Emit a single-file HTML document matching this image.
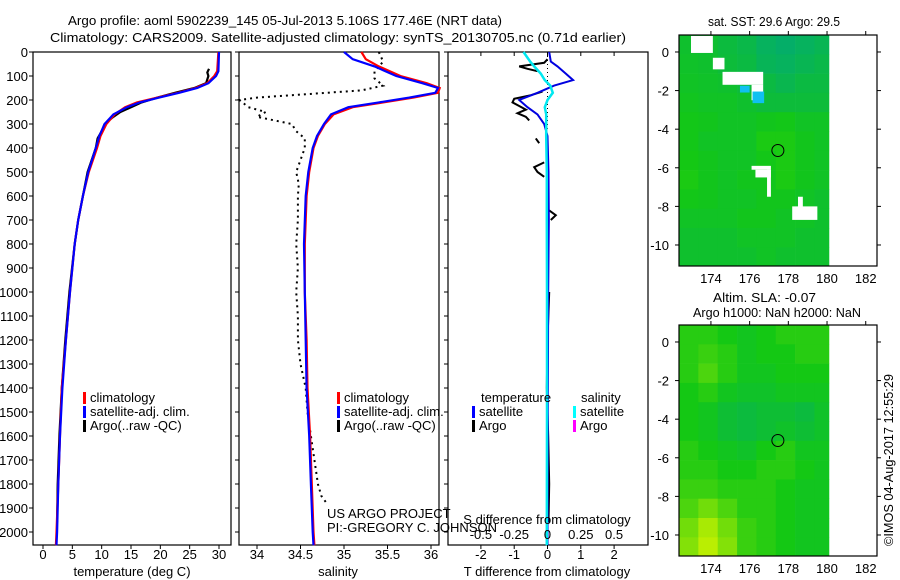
<!DOCTYPE html>
<html><head><meta charset="utf-8"><style>
html,body{margin:0;padding:0;background:#fff;}
svg{display:block;font-family:"Liberation Sans",sans-serif;}
text{fill:#000;font-size:13px;}
</style></head><body>
<svg id="fig" width="900" height="580" viewBox="0 0 900 580" xmlns="http://www.w3.org/2000/svg">
<text x="68" y="25" textLength="434" lengthAdjust="spacingAndGlyphs" font-size="13">Argo profile: aoml 5902239_145 05-Jul-2013 5.106S 177.46E (NRT data)</text>
<text x="50" y="42" textLength="576" lengthAdjust="spacingAndGlyphs" font-size="13">Climatology: CARS2009. Satellite-adjusted climatology: synTS_20130705.nc (0.71d earlier)</text>
<text x="708" y="26" textLength="132" lengthAdjust="spacingAndGlyphs">sat. SST: 29.6 Argo: 29.5</text>
<text x="713" y="302" textLength="103" lengthAdjust="spacingAndGlyphs">Altim. SLA: -0.07</text>
<text x="693" y="317" textLength="168" lengthAdjust="spacingAndGlyphs">Argo h1000: NaN h2000: NaN</text>
<text transform="translate(893,546) rotate(-90)" textLength="172" lengthAdjust="spacingAndGlyphs">©IMOS 04-Aug-2017 12:55:29</text>
<g id="g"></g>
</svg>
<script>
// ---------- data ----------
const depthT = [0,80,100,130,150,170,190,210,230,260,300,350,400,500,600,700,800,1000,1200,1400,1600,1800,2000,2055];
const tempClim = [29.9,29.7,29.2,28.0,26.0,23.0,19.5,16.0,14.0,12.2,10.8,9.8,9.2,7.8,6.8,6.0,5.4,4.6,3.9,3.2,2.9,2.6,2.3,2.2];
const tempSat  = [30.0,29.9,29.5,28.2,26.3,23.2,19.8,16.5,14.3,12.0,10.5,9.6,9.0,7.7,6.8,6.0,5.4,4.6,3.9,3.3,2.9,2.6,2.4,2.3];
const depthA = [70,85,100,130,150,170,190,210,230,250,270,300,330,360,400,500,600,700,800,1000,1200,1400,1600,1800,1960];
const tempArgo = [28.3,28.0,28.2,27.8,25.8,22.5,19.5,16.8,15.0,13.2,12.0,10.5,10.0,9.3,9.0,7.6,6.8,6.0,5.4,4.5,3.8,3.2,2.8,2.5,2.4];

const depthS = [0,30,60,100,130,150,170,190,210,230,260,300,350,400,500,600,800,1000,1200,1400,1600,1800,2000,2055];
const salClim = [35.2,35.25,35.4,35.65,35.95,36.1,36.08,35.8,35.45,35.1,34.88,34.78,34.7,34.65,34.6,34.57,34.55,34.55,34.57,34.58,34.61,34.63,34.65,34.66];
const salSat  = [35.0,35.1,35.35,35.6,35.9,36.08,36.05,35.75,35.4,35.05,34.85,34.77,34.69,34.64,34.59,34.56,34.54,34.55,34.56,34.57,34.6,34.62,34.64,34.65];
const depthSA = [0,40,80,110,140,160,175,190,200,215,230,250,270,300,330,360,400,450,500,550,600,700,800,900,1000,1100,1200,1300,1400,1500,1600,1700,1750,1800,1850,1880];
const salArgo = [35.4,35.45,35.35,35.35,35.45,35.2,34.6,34.0,33.8,33.85,33.9,34.1,34.0,34.4,34.45,34.55,34.55,34.5,34.45,34.48,34.47,34.47,34.45,34.47,34.45,34.47,34.47,34.5,34.56,34.58,34.62,34.66,34.68,34.7,34.74,34.8];

const depthD = [0,40,60,90,117,140,170,200,230,260,300,350,500,700,1000,1500,2055];
const tDiffSat = [0.05,0.1,0.3,0.55,0.77,0.2,-0.3,-0.85,-0.6,-0.3,-0.1,0.0,0.03,0.04,0.02,0.01,0.0];
const sDiffSat = [-0.18,-0.13,-0.1,-0.05,-0.02,0.02,0.04,0.0,-0.02,-0.01,-0.01,-0.01,-0.005,-0.005,-0.004,-0.004,-0.005];
// null = gap in Argo record
const depthDA = [30,45,60,70,80,  150,165,180,195,210,225,240,255,270,285,  340,360,380,  440,460,480,500,520,  640,660,680,700,  800,1000,1200,1400,1600,1800,1960];
const tDiffArgo = [0.0,-0.1,-0.85,-0.6,-0.3, null,-0.15,-0.5,-1.0,-1.05,-0.85,-0.65,-0.9,-0.65,-0.55, null,-0.35,-0.25, null,-0.1,-0.4,-0.3,-0.1, null,0.05,0.25,0.1, null,0.05,0.0,-0.02,0.02,0.05,0.03];

const depthTicks = [0,100,200,300,400,500,600,700,800,900,1000,1100,1200,1300,1400,1500,1600,1700,1800,1900,2000];
const tempTicks = [0,5,10,15,20,25,30];
const salTicks = [34,34.5,35,35.5,36];
const tdTicks = [-2,-1,0,1,2];
const sdTicks = [-0.5,-0.25,0,0.25,0.5];
const sdTickLabels = ['-0.5','-0.25','0','0.25','0.5'];
const lonTicks = [174,176,178,180,182];
const latTicks = [0,-2,-4,-6,-8,-10];

const mapLon0 = 172.35, mapLat0 = 0.88;
const sstGrid = [
[0.38,0.36,0.3,0.25,0.15,0.1,0.15,0.2],
[0.4,0.38,0.32,0.28,0.18,0.15,0.2,0.25],
[0.42,0.4,0.38,0.32,0.28,0.22,0.28,0.28],
[0.45,0.42,0.42,0.38,0.32,0.32,0.32,0.32],
[0.48,0.46,0.42,0.42,0.46,0.48,0.42,0.42],
[0.48,0.42,0.42,0.42,0.52,0.52,0.46,0.42],
[0.5,0.46,0.42,0.42,0.48,0.52,0.46,0.42],
[0.52,0.46,0.42,0.46,0.46,0.52,0.46,0.42],
[0.48,0.46,0.42,0.42,0.46,0.46,0.42,0.38],
[0.42,0.42,0.42,0.46,0.46,0.42,0.42,0.38],
[0.38,0.38,0.38,0.42,0.42,0.42,0.38,0.38],
[0.38,0.38,0.38,0.38,0.42,0.38,0.38,0.38]];
const slaGrid = [
[0.55,0.55,0.5,0.45,0.5,0.55,0.55,0.55],
[0.55,0.6,0.55,0.45,0.5,0.5,0.55,0.55],
[0.55,0.65,0.55,0.45,0.45,0.5,0.5,0.5],
[0.5,0.55,0.45,0.4,0.4,0.45,0.45,0.45],
[0.5,0.45,0.35,0.3,0.35,0.35,0.3,0.4],
[0.5,0.45,0.35,0.3,0.35,0.4,0.35,0.4],
[0.55,0.5,0.45,0.4,0.5,0.55,0.45,0.45],
[0.55,0.55,0.5,0.5,0.55,0.55,0.5,0.45],
[0.6,0.6,0.55,0.55,0.55,0.5,0.45,0.45],
[0.65,0.75,0.65,0.55,0.55,0.5,0.45,0.45],
[0.75,0.9,0.75,0.6,0.55,0.5,0.45,0.45],
[0.8,0.95,0.8,0.6,0.55,0.5,0.45,0.45]];
const sstMask = [[172.97,174.1,0.83,-0.05],[174.1,174.7,-0.3,-0.9],[174.6,176.7,-1.03,-1.7],[176.1,176.7,-1.7,-2.5],[176.1,177.1,-5.9,-6.1],[176.3,177.1,-6.1,-6.5],[176.9,177.1,-6.1,-7.5],[178.5,178.75,-7.5,-8.35],[178.2,179.5,-8.0,-8.7]];
const sstCyan = [[176.15,176.75,-2.05,-2.65],[175.5,176.0,-1.75,-2.1]];
const argoLon = 177.46, argoLat = -5.106;

// ---------- drawing ----------
const NS='http://www.w3.org/2000/svg';
const G=document.getElementById('g');
function mk(tag,attrs,parent){const e=document.createElementNS(NS,tag);for(const k in attrs)e.setAttribute(k,attrs[k]);(parent||G).appendChild(e);return e;}
function txt(s,x,y,anchor,parent){const t=mk('text',{x:x,y:y,'text-anchor':anchor||'start'},parent);t.textContent=s;return t;}

const yTop=52, ppm=0.24, yBot=545;
const yD=d=>yTop+d*ppm;
const P1={x0:33,x1:231,f:v=>43+v*(176/30)};
const P2={x0:239,x1:439,f:v=>257+(v-34)*87};
const P3={x0:448,x1:648,f:v=>547.5+v*33.3};
const sdX=v=>547.5+v*4*33.3;

function panelFrame(P,name){
  const r=mk('rect',{x:P.x0,y:yTop,width:P.x1-P.x0,height:yBot-yTop,fill:'none',stroke:'#000','stroke-width':1.2});
  
  
  depthTicks.forEach(d=>{const l=mk('line',{x1:P.x0-4,x2:P.x0,y1:yD(d),y2:yD(d),stroke:'#000'});
    
    });
}
function line(P,fx,vals,deps,color,w,name,dash){
  let d='',pen=false;
  vals.forEach((v,i)=>{
    if(v===null){pen=false;return;}
    d+=(pen?'L':'M')+fx(v).toFixed(1)+','+yD(deps[i]).toFixed(1);
    pen=true;
  });
  const e=mk('path',{d:d,fill:'none',stroke:color,'stroke-width':w});
  if(dash)e.setAttribute('stroke-dasharray',dash);
  
  
  return e;
}
[P1,P2,P3].forEach((P,i)=>panelFrame(P,'panel-'+(i+1)));
depthTicks.forEach(d=>{const t=txt(String(d),28,yD(d)+5,'end');
  
  });

// panel 1 temperature
line(P1,P1.f,tempArgo,depthA,'#000',2.2,'temp-argo-line');
line(P1,P1.f,tempClim,depthT,'#f00',2.2,'temp-climatology-line');
line(P1,P1.f,tempSat,depthT,'#00f',2.2,'temp-satellite-line');
tempTicks.forEach(v=>{mk('line',{x1:P1.f(v),x2:P1.f(v),y1:yBot,y2:yBot+4,stroke:'#000'});
  const t=txt(String(v),P1.f(v),559,'middle');
  
  });
const tx1=txt('temperature (deg C)',132,576,'middle');



// panel 2 salinity
line(P2,P2.f,salArgo,depthSA,'#000',2,'salinity-argo-line','2 4');
line(P2,P2.f,salClim,depthS,'#f00',2.2,'salinity-climatology-line');
line(P2,P2.f,salSat,depthS,'#00f',2.2,'salinity-satellite-line');
salTicks.forEach(v=>{mk('line',{x1:P2.f(v),x2:P2.f(v),y1:yBot,y2:yBot+4,stroke:'#000'});
  const t=txt(String(v),P2.f(v),559,'middle');
  
  });
const tx2=txt('salinity',338,576,'middle');


const us=txt('US ARGO PROJECT',327,518);


const pi=txt('PI:-GREGORY C. JOHNSON',327,532);



// legends
function legend(x,y,items,prefix){
  items.forEach((it,i)=>{
    const r=mk('rect',{x:x,y:y+i*14-10,width:3,height:12,fill:it[1]});
    
    
    const t=txt(it[0],x+7,y+i*14);
    
    
  });
}
legend(83,402,[['climatology','#f00'],['satellite-adj. clim.','#00f'],['Argo(..raw -QC)','#000']],'temp-legend');
legend(337,402,[['climatology','#f00'],['satellite-adj. clim.','#00f'],['Argo(..raw -QC)','#000']],'salinity-legend');

// panel 3 differences
mk('line',{x1:547.5,x2:547.5,y1:yTop,y2:yD(320),stroke:'#000','stroke-dasharray':'1 3'});
line(P3,P3.f,tDiffArgo,depthDA,'#000',2,'t-diff-argo-line');
line(P3,P3.f,tDiffSat,depthD,'#0000e0',2,'t-diff-satellite-line');
line(P3,sdX,sDiffSat,depthD,'#00e8f0',2.5,'s-diff-satellite-line');
tdTicks.forEach(v=>{mk('line',{x1:P3.f(v),x2:P3.f(v),y1:yBot,y2:yBot+4,stroke:'#000'});
  mk('line',{x1:P3.f(v),x2:P3.f(v),y1:yTop,y2:yTop+4,stroke:'#000'});
  const t=txt(String(v),P3.f(v),559,'middle');
  
  });
sdTicks.forEach((v,i)=>{const t=txt(sdTickLabels[i],sdX(v),539,'middle');
  
  });
const sd=txt('S difference from climatology',547,524,'middle');


const td=txt('T difference from climatology',547,576,'middle');


const lt=txt('temperature',481,402);
const ls=txt('salinity',581,402);
legend(472,416,[['satellite','#00f'],['Argo','#000']],'diff-legend-temperature');
legend(573,416,[['satellite','#00ffff'],['Argo','#ff00ff']],'diff-legend-salinity');

// maps
function cmap(v){
  let a,b,t;
  if(v<0.5){a=[0,168,125];b=[20,200,20];t=v/0.5;}else{a=[20,200,20];b=[205,242,0];t=(v-0.5)/0.5;}
  return 'rgb('+a.map((c,i)=>Math.round(c+(b[i]-c)*t)).join(',')+')';
}
function drawMap(grid,yTopPx,name,masks,cyans){
  const x0=679,x1=877,ppd=19.35,h=231;
  const lonX=l=>x0+(l-172.35)*ppd;
  const latY=l=>yTopPx+(mapLat0-l)*19.3;
  const dataR=lonX(180.1);
  grid.forEach((row,r)=>row.forEach((v,c)=>{
    const lx=lonX(mapLon0+c), rx=Math.min(lonX(mapLon0+c+1),dataR);
    const ty=latY(mapLat0-r), by=Math.min(latY(mapLat0-r-1),yTopPx+h);
    const e=mk('rect',{x:lx,y:ty,width:rx-lx+0.3,height:by-ty+0.3,fill:cmap(v)});
    
    
  }));
  (masks||[]).forEach(m=>{const e=mk('rect',{x:lonX(m[0]),y:latY(m[2]),width:lonX(m[1])-lonX(m[0]),height:latY(m[3])-latY(m[2]),fill:'#fff'});
    
    });
  (cyans||[]).forEach(m=>{const e=mk('rect',{x:lonX(m[0]),y:latY(m[2]),width:lonX(m[1])-lonX(m[0]),height:latY(m[3])-latY(m[2]),fill:'#10c0f0'});
    
    });
  const c=mk('circle',{cx:lonX(argoLon),cy:latY(argoLat),r:6,fill:'none',stroke:'#000','stroke-width':1});
  
  
  const f=mk('rect',{x:x0,y:yTopPx,width:x1-x0,height:h,fill:'none',stroke:'#000','stroke-width':1.2});
  
  
  lonTicks.forEach(l=>{mk('line',{x1:lonX(l),x2:lonX(l),y1:yTopPx,y2:yTopPx-4,stroke:'#000'});
    const t=txt(String(l),lonX(l),yTopPx+h+17,'middle');
    
    });
  latTicks.forEach(l=>{mk('line',{x1:x0,x2:x0-4,y1:latY(l),y2:latY(l),stroke:'#000'});
    mk('line',{x1:x1,x2:x1+4,y1:latY(l),y2:latY(l),stroke:'#000'});
    const t=txt(String(l),x0-10,latY(l)+5,'end');
    
    });
}
drawMap(sstGrid,35,'sst-map',sstMask,sstCyan);
drawMap(slaGrid,325,'sla-map',[],[]);
</script>
</body></html>
